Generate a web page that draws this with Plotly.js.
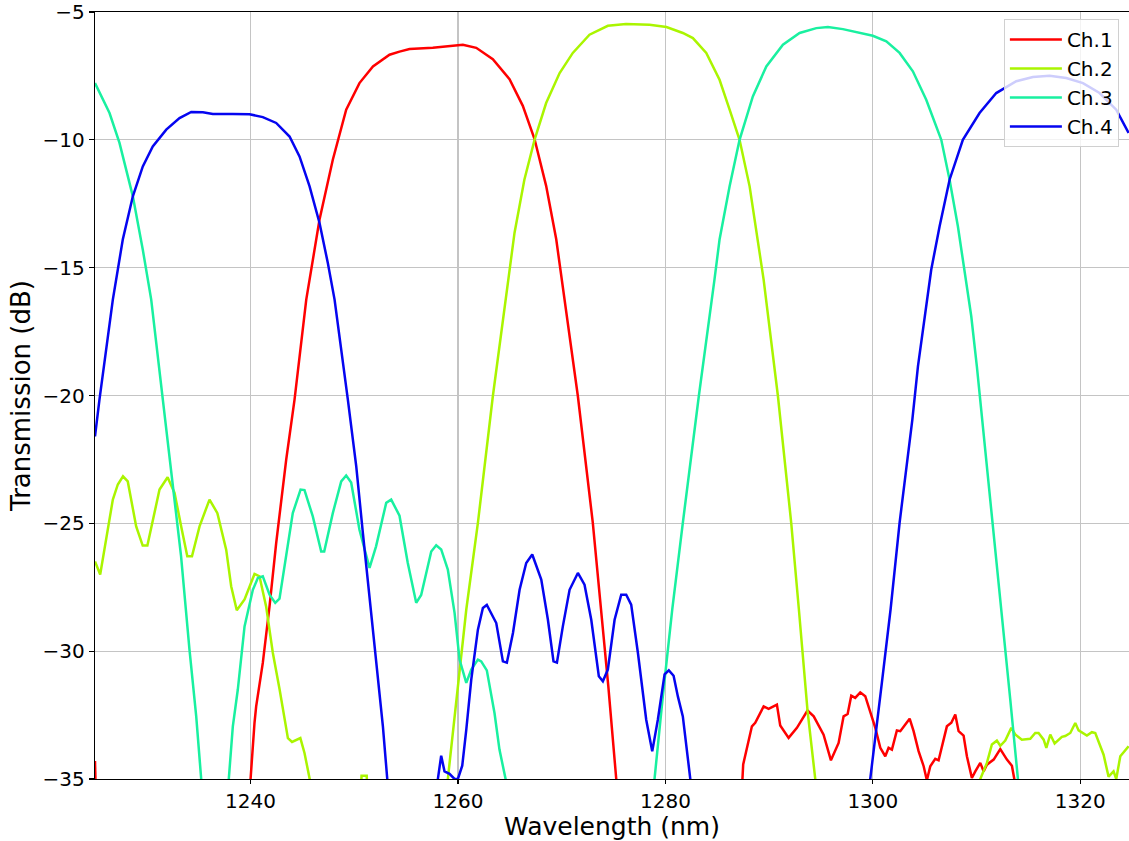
<!DOCTYPE html>
<html>
<head>
<meta charset="utf-8">
<script src="https://cdn.plot.ly/plotly-3.0.1.min.js"></script>
<style>
  html, body { margin: 0; padding: 0; background: #ffffff; overflow: hidden; }
  #chart { width: 1129px; height: 841px; }
</style>
</head>
<body>
<div id="chart"></div>
<script>
// ---- Data (wavelength in nm, transmission in dB); null = gap where the curve is below the axis ----
const channelNames = ["Ch.1", "Ch.2", "Ch.3", "Ch.4"];
const channelColors = ["#ff0000", "#aaf500", "#19f0a0", "#0505f0"];

const ch1_wl = [1225, 1225.1, 1225.2,
  1239.95, 1240.0, 1240.38, 1240.54, 1241.18, 1241.83, 1242.47, 1243.44, 1244.24, 1245.37, 1246.65, 1247.93,
  1249.22, 1250.5, 1251.8, 1253.4, 1254.36, 1255.33, 1257.57, 1259.2, 1260.47, 1261.76, 1263.36, 1264.97,
  1266.25, 1267.38, 1268.5, 1269.47, 1270.27, 1271.56, 1273.0, 1273.81, 1274.5, 1275.26, 1275.4, 1275.5,
  1287.3, 1287.4, 1287.5, 1288.34, 1288.66, 1289.47, 1289.95, 1290.75, 1291.07, 1291.88, 1292.68, 1293.7,
  1294.3, 1295.25, 1295.96, 1296.7, 1297.18, 1297.57, 1297.92, 1298.3, 1298.79, 1299.27, 1300.24, 1300.72,
  1301.2, 1301.52, 1301.84, 1302.32, 1302.65, 1303.13, 1303.55, 1303.93, 1304.41, 1304.9, 1305.21, 1305.54,
  1306.02, 1306.34, 1307.14, 1307.57, 1307.95, 1308.27, 1308.75, 1309.07, 1309.55, 1309.88, 1310.36, 1310.68,
  1311.0, 1311.65, 1312.29, 1312.93, 1313.41, 1313.64, 1313.7];
const ch1_db = [-34.3, -36, null,
  -36, -35, -32.8, -32.16, -30.46, -28.24, -25.77, -22.5, -20.16, -16.25, -13.12, -10.78,
  -8.82, -7.78, -7.13, -6.67, -6.55, -6.45, -6.4, -6.33, -6.28, -6.4, -6.85, -7.63,
  -8.67, -9.97, -11.8, -13.88, -16.25, -20.03, -24.98, -28.37, -31.4, -35, -36, null,
  -36, -35, -34.43, -32.94, -32.8, -32.16, -32.26, -32.09, -32.91, -33.39, -33.0, -32.32,
  -32.55, -33.27, -34.27, -33.59, -32.55, -32.46, -31.74, -31.83, -31.61, -31.76, -33.0, -33.78,
  -34.11, -33.78, -33.85, -33.1, -33.13, -32.87, -32.64, -33.13, -33.91, -34.5, -35.05, -34.5,
  -34.21, -34.27, -32.94, -32.8, -32.48, -33.13, -33.3, -34.11, -34.96, -34.7, -34.37, -34.7,
  -34.44, -34.24, -33.83, -34.24, -34.48, -35, -36];

const ch2_wl = [1225, 1225.5, 1226.72, 1227.2, 1227.7, 1228.16, 1228.97, 1229.6, 1230.05, 1230.57, 1231.22,
  1232.0, 1232.67, 1233.31, 1233.9, 1234.35, 1235.08, 1236.04, 1236.8, 1237.65, 1238.13, 1238.67, 1239.42,
  1240.38, 1240.86, 1241.5, 1242.15, 1242.8, 1243.6, 1244.0, 1244.8, 1245.2, 1245.7, 1245.8, 1245.9,
  1250.6, 1250.7, 1251.2, 1251.3, 1251.4,
  1258.95, 1259.02, 1260.8, 1261.92, 1263.36, 1264.9, 1265.45, 1266.4, 1267.38, 1268.5, 1269.8, 1271.07,
  1272.68, 1274.45, 1276.2, 1278.47, 1280.1, 1281.68, 1282.65, 1283.94, 1285.22, 1286.19, 1287.15, 1288.12,
  1288.92, 1289.47, 1290.85, 1292.13, 1292.87, 1293.7, 1294.45, 1294.55, 1294.65,
  1310.3, 1310.36, 1311.0, 1311.48, 1311.96, 1312.29, 1312.77, 1313.35, 1313.73, 1314.37, 1315.18, 1315.66,
  1315.98, 1316.47, 1316.73, 1317.11, 1317.53, 1318.23, 1318.55, 1319.04, 1319.52, 1319.84, 1320.64, 1321.12,
  1321.45, 1322.25, 1322.73, 1323.21, 1323.47, 1323.86, 1324.66];
const ch2_db = [-26.49, -27.0, -24.07, -23.48, -23.16, -23.36, -25.12, -25.87, -25.87, -24.86, -23.68,
  -23.2, -23.81, -25.12, -26.29, -26.29, -25.12, -24.07, -24.6, -26.03, -27.46, -28.4, -27.98,
  -26.98, -27.07, -28.25, -30.07, -31.5, -33.4, -33.55, -33.4, -33.98, -35, -36, null,
  -36, -34.87, -34.87, -36, null,
  -36, -35, -28.37, -24.98, -20.03, -15.47, -13.64, -11.56, -10.0, -8.56, -7.39, -6.6,
  -5.89, -5.54, -5.47, -5.5, -5.59, -5.82, -6.02, -6.6, -7.65, -8.82, -10.0, -11.82,
  -13.9, -15.47, -20.03, -24.98, -28.37, -32.32, -35, -36, null,
  -36, -35, -34.37, -33.65, -33.5, -33.7, -33.5, -33.0, -33.26, -33.46, -33.43, -33.2,
  -33.2, -33.46, -33.78, -33.26, -33.61, -33.35, -33.32, -33.2, -32.81, -33.1, -33.3, -33.17,
  -33.2, -34.05, -34.91, -34.7, -35.0, -34.11, -33.72];

const ch3_wl = [1225, 1226.4, 1227.36, 1228.65, 1229.61, 1230.42, 1231.54, 1232.5, 1233.3, 1234.11, 1234.76,
  1235.24, 1235.3, 1235.4,
  1237.85, 1237.9, 1238.29, 1238.77, 1239.42, 1240.22, 1240.7, 1241.18, 1241.83, 1242.38, 1242.79, 1243.44,
  1244.07, 1244.82, 1245.2, 1246.0, 1246.81, 1247.1, 1247.93, 1248.74, 1249.22, 1249.7, 1250.5, 1251.47,
  1252.1, 1253.08, 1253.56, 1254.36, 1255.16, 1255.97, 1256.45, 1257.42, 1257.9, 1258.38, 1259.02, 1259.67,
  1260.15, 1260.8, 1261.28, 1261.92, 1262.24, 1262.78, 1263.52, 1264.0, 1264.59, 1264.65, 1264.75,
  1278.9, 1278.95, 1279.75, 1280.66, 1281.68, 1283.22, 1284.73, 1285.22, 1286.19, 1287.15, 1288.43, 1289.73,
  1291.33, 1292.94, 1294.55, 1295.67, 1297.11, 1298.72, 1300.0, 1301.3, 1302.58, 1303.86, 1305.15, 1306.6,
  1307.4, 1308.2, 1308.85, 1309.49, 1310.03, 1310.55, 1311.58, 1312.38, 1313.25, 1313.99, 1314.05];
const ch3_db = [-7.78, -8.95, -10.12, -12.21, -14.3, -16.25, -20.16, -23.42, -26.29, -29.94, -32.55,
  -35, -36, null,
  -36, -35, -32.94, -31.5, -29.03, -27.6, -27.14, -27.07, -27.79, -28.11, -27.95, -26.16,
  -24.6, -23.68, -23.7, -24.73, -26.1, -26.1, -24.6, -23.36, -23.13, -23.4, -25.25, -26.74,
  -25.9, -24.2, -24.07, -24.7, -26.55, -28.11, -27.8, -26.1, -25.86, -26.02, -26.81, -28.5,
  -30.33, -31.24, -30.72, -30.33, -30.4, -30.75, -32.42, -33.85, -35, -36, null,
  -36, -35, -31.77, -28.37, -24.98, -20.03, -15.47, -13.9, -11.82, -10.0, -8.3, -7.13,
  -6.28, -5.82, -5.63, -5.59, -5.67, -5.8, -5.93, -6.15, -6.6, -7.32, -8.43, -10.0,
  -11.56, -13.38, -15.08, -16.9, -18.86, -20.94, -24.98, -28.37, -31.89, -35, -36];

const ch4_wl = [1225, 1225.43, 1226.72, 1227.68, 1228.65, 1229.61, 1230.57, 1231.87, 1233.15, 1234.28, 1235.4,
  1236.36, 1238.29, 1239.9, 1241.18, 1242.47, 1243.76, 1244.72, 1245.69, 1246.65, 1247.45, 1248.1, 1249.38,
  1250.19, 1250.83, 1251.47, 1252.12, 1252.76, 1253.18, 1253.22, 1253.3,
  1258.0, 1258.06, 1258.38, 1258.7, 1259.18, 1259.67, 1259.99, 1260.41, 1260.8, 1261.28, 1261.92, 1262.4,
  1262.78, 1263.69, 1264.33, 1264.71, 1265.3, 1265.94, 1266.58, 1267.16, 1268.03, 1268.67, 1269.21, 1269.54,
  1270.11, 1270.76, 1271.56, 1272.2, 1272.85, 1273.58, 1273.97, 1274.45, 1275.1, 1275.74, 1276.22, 1276.7,
  1277.35, 1278.15, 1278.73, 1279.27, 1279.92, 1280.33, 1280.79, 1281.2, 1281.68, 1282.4, 1282.45, 1282.5,
  1299.7, 1299.75, 1300.87, 1301.71, 1302.58, 1303.81, 1304.35, 1305.0, 1305.63, 1306.44, 1307.4, 1308.68,
  1310.29, 1311.9, 1313.83, 1315.43, 1317.04, 1318.65, 1320.26, 1321.86, 1323.47, 1324.66];
const ch4_db = [-21.6, -20.16, -16.25, -13.9, -12.21, -11.04, -10.26, -9.6, -9.15, -8.91, -8.92,
  -8.99, -8.99, -9.0, -9.11, -9.34, -9.87, -10.65, -11.82, -13.25, -14.82, -16.25, -20.16,
  -22.77, -25.38, -27.98, -30.33, -32.94, -35, -36, null,
  -36, -35, -34.09, -34.7, -34.8, -35.0, -35.0, -34.48, -33.07, -31.11, -29.16, -28.31,
  -28.19, -28.9, -30.4, -30.45, -29.29, -27.6, -26.55, -26.22, -27.2, -28.77, -30.4, -30.45,
  -29.03, -27.6, -26.94, -27.4, -28.77, -30.98, -31.18, -30.72, -28.77, -27.79, -27.79, -28.18,
  -30.07, -32.68, -33.92, -32.68, -30.91, -30.75, -30.96, -31.77, -32.55, -35, -36, null,
  -36, -35, -31.24, -28.37, -24.98, -20.94, -18.86, -16.9, -15.08, -13.38, -11.56, -10.0,
  -8.95, -8.17, -7.71, -7.54, -7.49, -7.58, -7.78, -8.17, -8.82, -9.73];

const xTicks = [1240, 1260, 1280, 1300, 1320];
const yTicks = [-35, -30, -25, -20, -15, -10, -5];

// ---- Build traces ----
const xs = [ch1_wl, ch2_wl, ch3_wl, ch4_wl];
const ys = [ch1_db, ch2_db, ch3_db, ch4_db];
const traces = channelNames.map((name, i) => ({
  x: xs[i], y: ys[i], name: name, type: 'scatter', mode: 'lines',
  connectgaps: false,
  line: { color: channelColors[i], width: 2.5 },
  hoverinfo: 'skip'
}));

const FONT = 'DejaVu Sans, Liberation Sans, sans-serif';
const layout = {
  width: 1129, height: 841,
  margin: { l: 95, r: 0, t: 12, b: 62, pad: 0 },
  paper_bgcolor: '#ffffff', plot_bgcolor: '#ffffff',
  font: { family: FONT, color: '#000000', size: 20 },
  showlegend: true,
  legend: {
    x: 0.879, y: 0.991, xanchor: 'left', yanchor: 'top',
    itemwidth: 52,
    bgcolor: 'rgba(255,255,255,0.8)', bordercolor: '#d0d0d0', borderwidth: 1,
    font: { family: FONT, size: 20, color: '#000000' }
  },
  xaxis: {
    range: [1225, 1324.7], tickmode: 'array', tickvals: xTicks,
    ticks: 'outside', ticklen: 4, tickwidth: 1.2, tickcolor: '#000000',
    showline: true, linecolor: '#000000', linewidth: 1.2, mirror: true,
    showgrid: true, gridcolor: '#c4c4c4', gridwidth: 1.2, zeroline: false,
    tickfont: { family: FONT, size: 20, color: '#000000' },
    title: { text: 'Wavelength (nm)', font: { family: FONT, size: 25, color: '#000000' }, standoff: 12 }
  },
  yaxis: {
    range: [-35, -5], tickmode: 'array', tickvals: yTicks,
    ticks: 'outside', ticklen: 5, tickwidth: 1.2, tickcolor: '#000000',
    showline: true, linecolor: '#000000', linewidth: 1.2, mirror: false,
    showgrid: true, gridcolor: '#c4c4c4', gridwidth: 1.2, zeroline: false,
    tickfont: { family: FONT, size: 20, color: '#000000' },
    title: { text: 'Transmission (dB)', font: { family: FONT, size: 26, color: '#000000' }, standoff: 4 }
  },
  hovermode: false
};

Plotly.newPlot('chart', traces, layout, { displayModeBar: false, staticPlot: true });
</script>
</body>
</html>
